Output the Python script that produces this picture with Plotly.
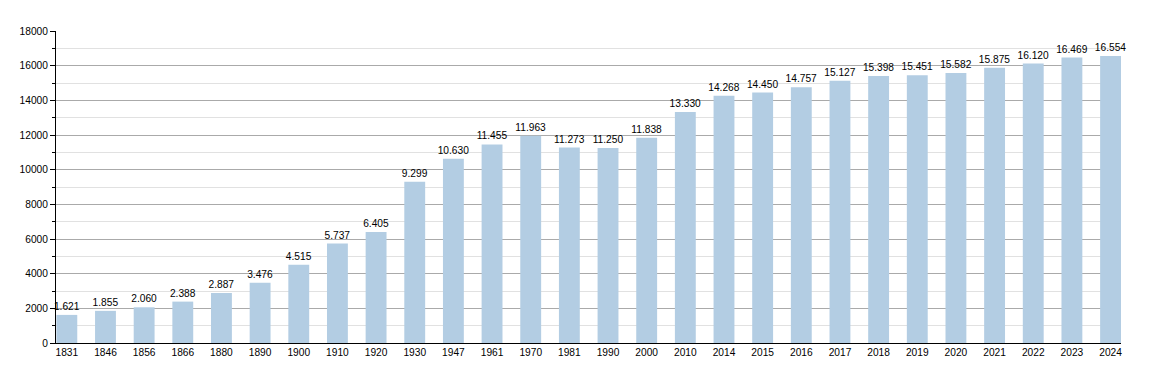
import plotly.graph_objects as go

years = ["1831","1846","1856","1866","1880","1890","1900","1910","1920","1930","1947","1961","1970","1981","1990","2000","2010","2014","2015","2016","2017","2018","2019","2020","2021","2022","2023","2024"]
population = [1621,1855,2060,2388,2887,3476,4515,5737,6405,9299,10630,11455,11963,11273,11250,11838,13330,14268,14450,14757,15127,15398,15451,15582,15875,16120,16469,16554]
labels = [f"{v:,}".replace(",", ".") for v in population]

FONT = "Liberation Sans, Arial, sans-serif"

fig = go.Figure(go.Bar(
    x=years, y=population, text=labels, textposition="outside",
    textangle=0, constraintext="none",
    textfont=dict(size=10.2, color="black", family=FONT),
    marker=dict(color="rgb(179,205,227)", line=dict(width=0)),
    width=0.54, cliponaxis=False,
))

fig.update_layout(
    width=1150, height=373,
    margin=dict(l=42, r=37, t=23, b=38),
    plot_bgcolor="white", paper_bgcolor="white",
    font=dict(family=FONT, size=10.2, color="black"),
    showlegend=False,
)
fig.update_xaxes(type="category", range=[-0.28, 27.27], showline=True, linecolor="black", linewidth=1,
                 ticks="", showgrid=False, tickfont=dict(size=10.2))
fig.update_yaxes(range=[0, 18000], dtick=2000, tickformat="d", showline=True, linecolor="black", linewidth=1,
                 ticks="outside", ticklen=5, tickcolor="black",
                 showgrid=True, gridcolor="rgb(170,170,170)", gridwidth=1,
                 zeroline=False, tickfont=dict(size=10.2),
                 minor=dict(dtick=1000, ticks="outside", ticklen=3, tickcolor="black",
                            showgrid=True, gridcolor="rgb(225,225,225)"))

fig.write_html("out.html")
